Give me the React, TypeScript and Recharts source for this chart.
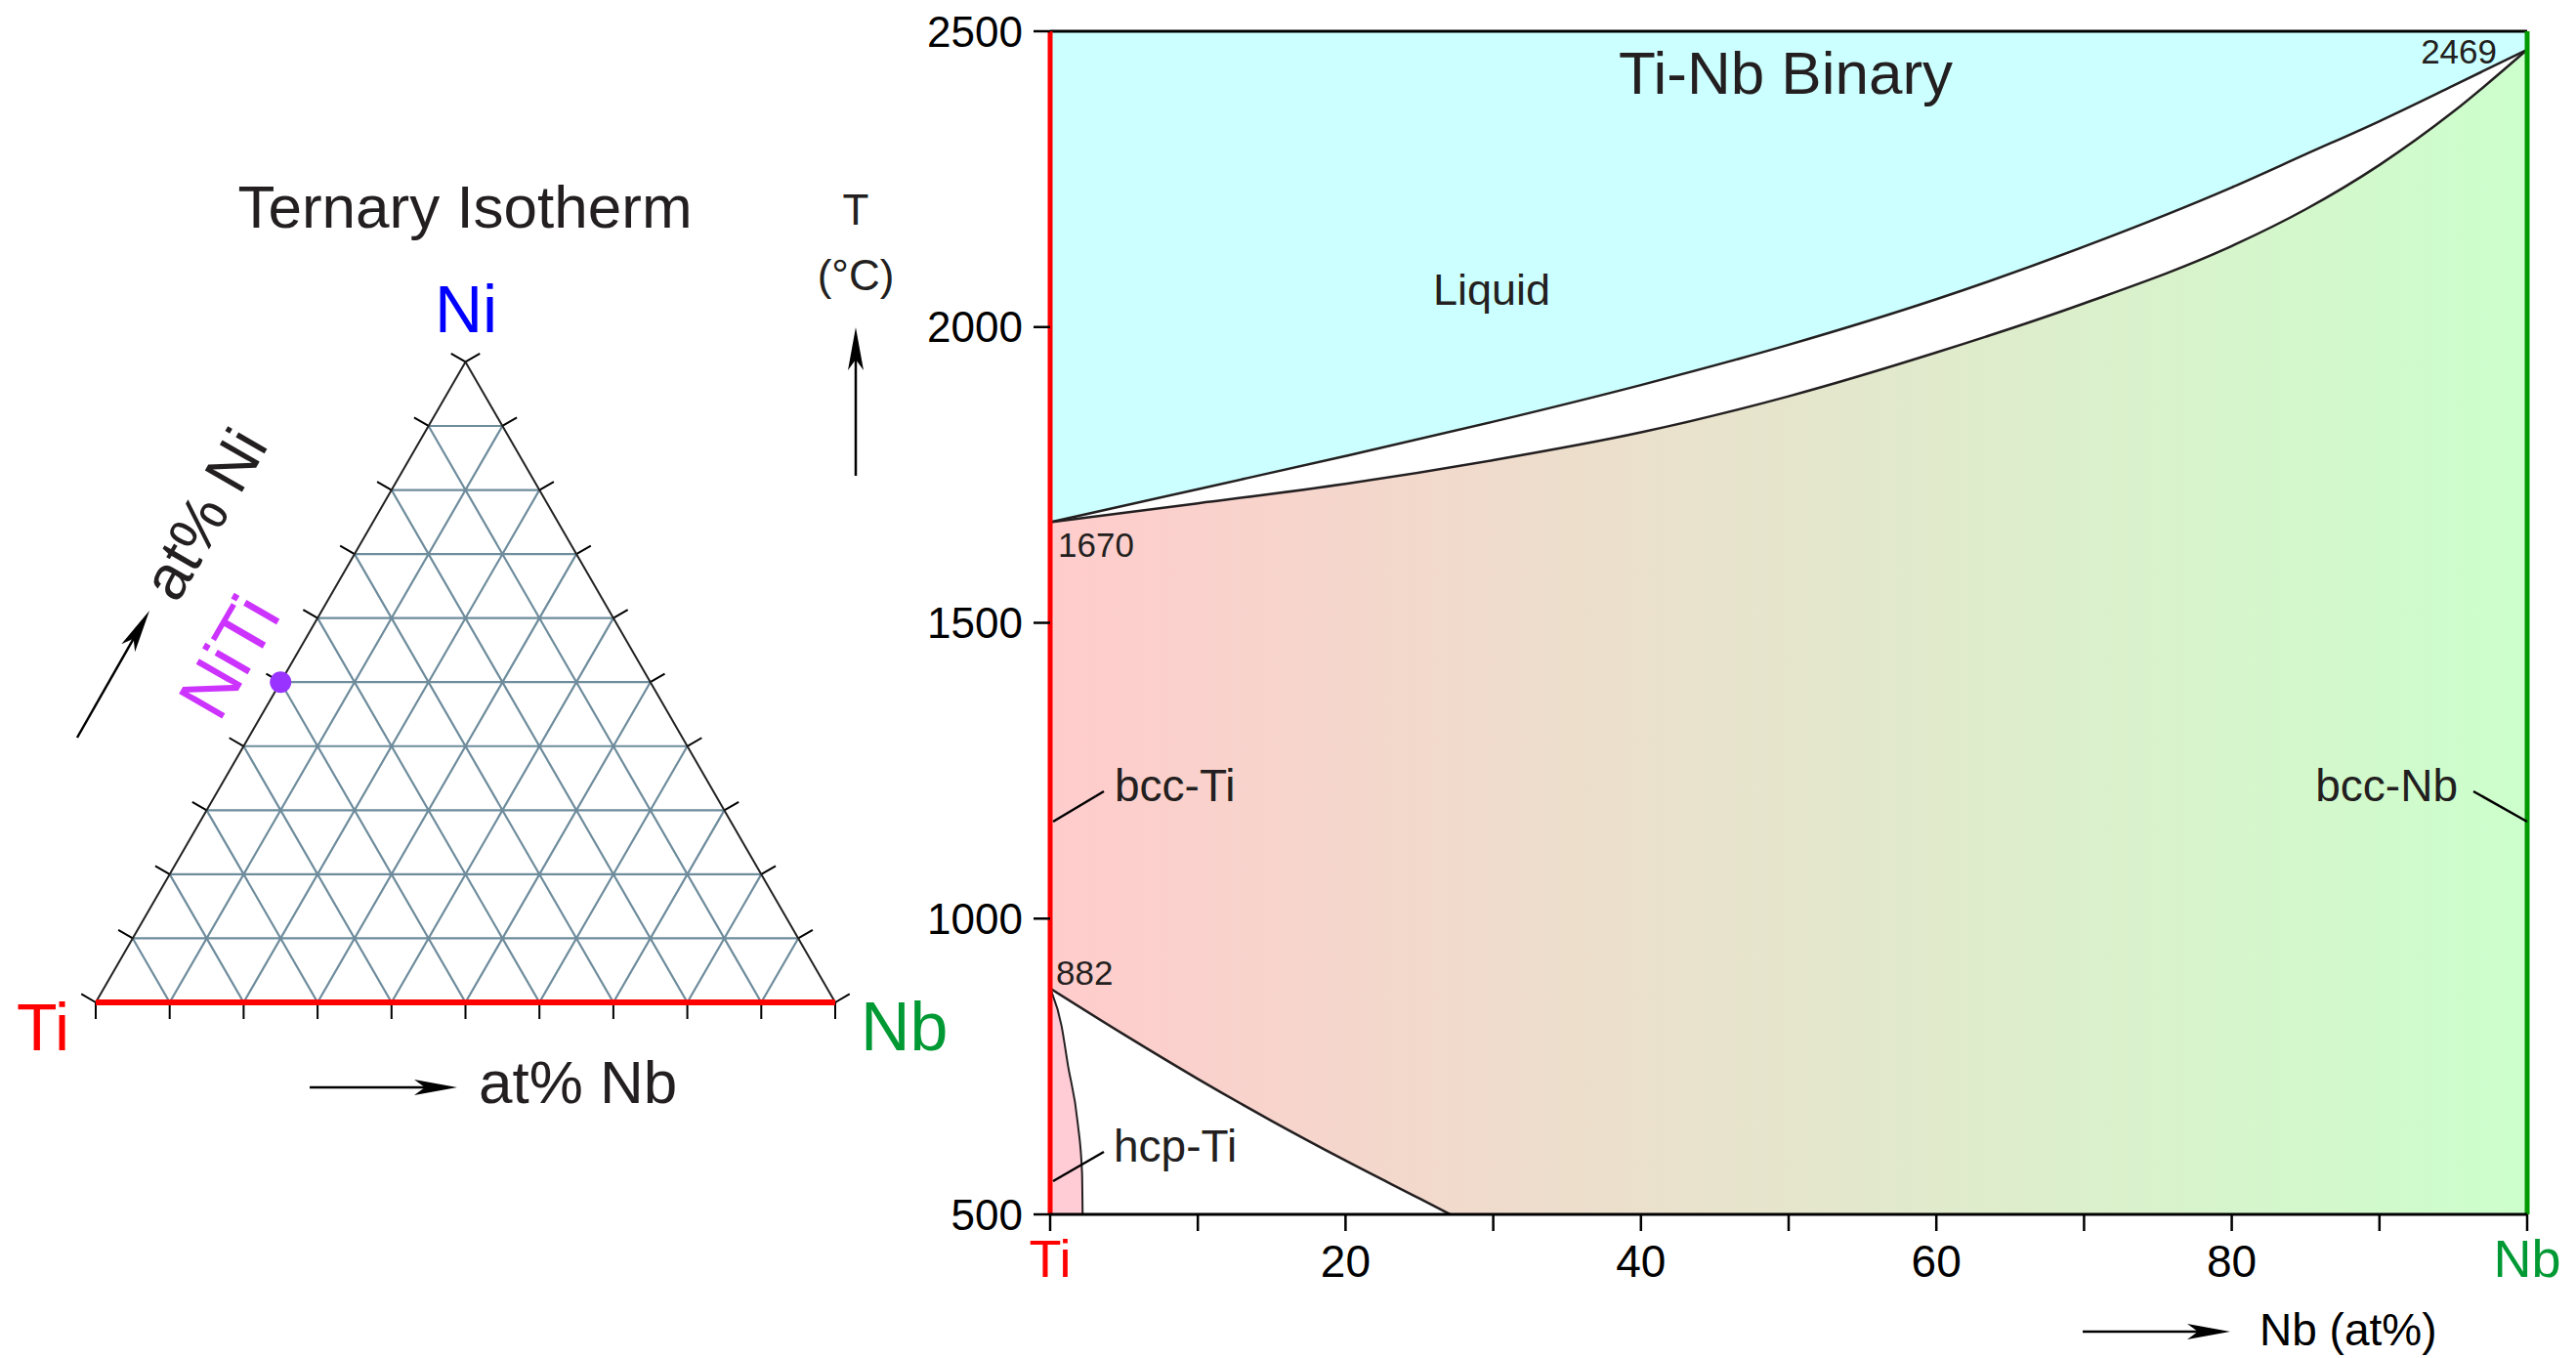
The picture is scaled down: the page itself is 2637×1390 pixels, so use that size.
import { ComposedChart, Line, Area, Scatter, XAxis, YAxis } from "recharts"

const FONT = '"Liberation Sans", Arial, Helvetica, sans-serif'
const INK = "#231f20"
const RED = "#ff0000"
const GREEN = "#009a00"
const GREEN_TXT = "#009933"
const BLUE = "#0000ff"
const GRID = "#6e8c9c"

// ---------- Ti-Nb binary ----------
const NB_PCT = [0, 10, 20, 30, 40, 50, 60, 70, 80, 85, 90, 95, 100]
const LIQUIDUS_T = [1670, 1726, 1782, 1840, 1902, 1970, 2047, 2136, 2236, 2292, 2348, 2408, 2469]
const SOLIDUS_T = [1670, 1702, 1735, 1775, 1822, 1883, 1957, 2040, 2137, 2199, 2274, 2364, 2469]

// bcc / (hcp+bcc) boundary
const TRANSUS_NB = [0, 5, 10, 15, 20, 25, 27.1]
const TRANSUS_T = [882, 804, 729, 658, 591, 527, 500]

// hcp / (hcp+bcc) boundary
const SOLVUS_NB = [0, 0.77, 1.2, 1.87, 2.16, 2.2]
const SOLVUS_T = [882, 819, 753, 654, 571, 500]

const T_MIN = 500
const T_MAX = 2500
const X_TICKS = [0, 10, 20, 30, 40, 50, 60, 70, 80, 90, 100]
const X_TICK_LABELS = ["Ti", "", "20", "", "40", "", "60", "", "80", "", "Nb"]
const Y_TICKS = [500, 1000, 1500, 2000, 2500]

const meltData = NB_PCT.map((x, i) => ({ x, liq: LIQUIDUS_T[i], sol: SOLIDUS_T[i] }))
const transusData = TRANSUS_NB.map((x, i) => ({ x, T: TRANSUS_T[i] }))
const solvusData = SOLVUS_NB.map((x, i) => ({ x, T: SOLVUS_T[i] }))
const bgData = [{ x: 0 }, { x: 100 }]
const tiEdge = [{ x: 0, T: T_MIN }, { x: 0, T: T_MAX }]
const nbEdge = [{ x: 100, T: T_MIN }, { x: 100, T: T_MAX }]
const topEdge = [{ x: 0, T: T_MAX }, { x: 100, T: T_MAX }]

// ---------- ternary (Ti - Nb - Ni) ----------
const GRID_STEPS = [10, 20, 30, 40, 50, 60, 70, 80, 90]
const EDGE_TICKS = [0, 10, 20, 30, 40, 50, 60, 70, 80, 90, 100]
const NITI = [{ nb: 0, ni: 50 }]
const TICK_LEN = 2.25

const H = Math.sqrt(3) / 2
const toXY = (nb: number, ni: number) => ({ x: nb + ni / 2, y: ni * H })

type P = { x: number; y: number | null }
function segments(pairs: [P, P][]) {
  const out: P[] = []
  pairs.forEach(([a, b]) => {
    out.push(a, b, { x: b.x, y: null })
  })
  return out
}

const gridData = segments(
  GRID_STEPS.flatMap((k) => [
    [toXY(0, k), toXY(100 - k, k)],
    [toXY(k, 0), toXY(k, 100 - k)],
    [toXY(100 - k, 0), toXY(0, 100 - k)],
  ] as [P, P][])
)

const tickData = segments(
  EDGE_TICKS.flatMap((k) => {
    const b = toXY(k, 0)
    const l = toXY(0, k)
    const r = toXY(100 - k, k)
    return [
      [b, { x: b.x, y: -TICK_LEN }],
      [l, { x: l.x - TICK_LEN * H, y: l.y + TICK_LEN / 2 }],
      [r, { x: r.x + TICK_LEN * H, y: r.y + TICK_LEN / 2 }],
    ] as [P, P][]
  })
)

const frameData = [toXY(0, 0), toXY(100, 0), toXY(0, 100), toXY(0, 0)]
const baseData = [toXY(0, 0), toXY(100, 0)]
const nitiData = NITI.map((p) => toXY(p.nb, p.ni))

const XTick = (props: any) => {
  const { x, y, payload } = props
  const i = X_TICKS.indexOf(payload.value)
  const label = X_TICK_LABELS[i]
  if (!label) return null
  const end = payload.value === 0 || payload.value === 100
  const fill = payload.value === 0 ? RED : payload.value === 100 ? GREEN_TXT : "#000"
  return (
    <text x={x} y={y + 47} textAnchor="middle" fill={fill} fontSize={end ? 54 : 46} fontFamily={FONT}>
      {label}
    </text>
  )
}

function Arrow({ x1, y1, x2, y2 }: { x1: number; y1: number; x2: number; y2: number }) {
  const len = Math.hypot(x2 - x1, y2 - y1)
  const ang = (Math.atan2(y2 - y1, x2 - x1) * 180) / Math.PI
  return (
    <g transform={`translate(${x2},${y2}) rotate(${ang})`}>
      <line x1={-len} y1={0} x2={-30} y2={0} stroke="#000" strokeWidth={2.5} />
      <path d="M0,0 L-44,-8 L-33,0 L-44,8 Z" fill="#000" />
    </g>
  )
}

function Ternary() {
  return (
    <div style={{ position: "absolute", left: 0, top: 0 }}>
      <ComposedChart width={950} height={1200} margin={{ top: 269, right: 19.3, bottom: 98.3, left: 22.3 }}>
        <XAxis type="number" dataKey="x" domain={[-10, 110]} hide />
        <YAxis type="number" dataKey="y" domain={[-10, 100]} hide />
        <Line data={gridData} dataKey="y" stroke={GRID} strokeWidth={2.2} dot={false} isAnimationActive={false} />
        <Line data={tickData} dataKey="y" stroke="#000" strokeWidth={2} dot={false} isAnimationActive={false} />
        <Line data={frameData} dataKey="y" stroke="#222" strokeWidth={2} dot={false} isAnimationActive={false} />
        <Line data={baseData} dataKey="y" stroke={RED} strokeWidth={6} dot={false} isAnimationActive={false} />
        <Scatter
          data={nitiData}
          dataKey="y"
          isAnimationActive={false}
          shape={(p: any) => <circle cx={p.cx} cy={p.cy} r={11} fill="#9933ff" />}
        />
      </ComposedChart>
    </div>
  )
}

function Binary() {
  return (
    <div style={{ position: "absolute", left: 900, top: 0 }}>
      <ComposedChart width={1737} height={1390} margin={{ top: 32, right: 50, bottom: 47, left: 55 }}>
        <defs>
          <linearGradient id="bccGrad" x1="0" y1="0" x2="1" y2="0">
            <stop offset="0%" stopColor="#ffcccc" />
            <stop offset="100%" stopColor="#ccffcc" />
          </linearGradient>
        </defs>
        <XAxis
          type="number"
          dataKey="x"
          domain={[0, 100]}
          ticks={X_TICKS}
          interval={0}
          height={100}
          tickSize={17}
          tickMargin={0}
          tick={<XTick />}
          axisLine={{ stroke: "#000", strokeWidth: 3 }}
          tickLine={{ stroke: "#000", strokeWidth: 2.5 }}
        />
        <YAxis
          type="number"
          domain={[T_MIN, T_MAX]}
          ticks={Y_TICKS}
          interval={0}
          width={120}
          tickSize={17}
          tickMargin={11}
          axisLine={false}
          tick={{ fontSize: 44, fill: "#000", fontFamily: FONT }}
          tickLine={{ stroke: "#000", strokeWidth: 2.5 }}
        />
        {/* bcc field: gradient Ti -> Nb */}
        <Area data={bgData} dataKey={() => [T_MIN, T_MAX]} type="linear" stroke="none" fill="url(#bccGrad)" fillOpacity={1} isAnimationActive={false} />
        {/* liquid */}
        <Area data={meltData} dataKey={(d: any) => [d.liq, T_MAX]} type="monotone" stroke="none" fill="#ccffff" fillOpacity={1} isAnimationActive={false} />
        {/* L + bcc */}
        <Area data={meltData} dataKey={(d: any) => [d.sol, d.liq]} type="monotone" stroke="none" fill="#ffffff" fillOpacity={1} isAnimationActive={false} />
        {/* hcp + bcc */}
        <Area data={transusData} dataKey={(d: any) => [T_MIN, d.T]} type="monotone" stroke="none" fill="#ffffff" fillOpacity={1} isAnimationActive={false} />
        {/* hcp-Ti */}
        <Area data={solvusData} dataKey={(d: any) => [T_MIN, d.T]} type="monotone" stroke="none" fill="#ffccd6" fillOpacity={1} isAnimationActive={false} />

        <Line data={meltData} dataKey="liq" type="monotone" stroke={INK} strokeWidth={2.5} dot={false} isAnimationActive={false} />
        <Line data={meltData} dataKey="sol" type="monotone" stroke={INK} strokeWidth={2.5} dot={false} isAnimationActive={false} />
        <Line data={transusData} dataKey="T" type="monotone" stroke={INK} strokeWidth={2.5} dot={false} isAnimationActive={false} />
        <Line data={solvusData} dataKey="T" type="monotone" stroke={INK} strokeWidth={2} dot={false} isAnimationActive={false} />

        <Line data={topEdge} dataKey="T" stroke="#000" strokeWidth={3} dot={false} isAnimationActive={false} />
        <Line data={tiEdge} dataKey="T" stroke={RED} strokeWidth={5} dot={false} isAnimationActive={false} />
        <Line data={nbEdge} dataKey="T" stroke={GREEN} strokeWidth={5} dot={false} isAnimationActive={false} />
      </ComposedChart>
    </div>
  )
}

function Annotations() {
  const t = { fontFamily: FONT, fill: INK }
  return (
    <svg width={2637} height={1390} style={{ position: "absolute", left: 0, top: 0, pointerEvents: "none" }}>
      {/* ternary */}
      <text x={476} y={233} textAnchor="middle" fontSize={62} {...t}>Ternary Isotherm</text>
      <text x={477} y={340} textAnchor="middle" fontSize={68} fontFamily={FONT} fill={BLUE}>Ni</text>
      <text x={17} y={1075} fontSize={68} fontFamily={FONT} fill={RED}>Ti</text>
      <text x={881} y={1075} fontSize={70} fontFamily={FONT} fill={GREEN_TXT}>Nb</text>
      <text x={490} y={1129} fontSize={62} {...t}>at% Nb</text>
      <Arrow x1={317} y1={1113} x2={468} y2={1113} />
      <text x={209} y={526} dy="0.35em" textAnchor="middle" fontSize={64} transform="rotate(-60 209 526)" {...t}>at% Ni</text>
      <Arrow x1={79} y1={755} x2={153} y2={625} />
      <text x={234} y={672} dy="0.35em" textAnchor="middle" fontSize={74} transform="rotate(-60 234 672)" fontFamily={FONT} fill="#cc33ff">NiTi</text>

      {/* temperature axis title */}
      <text x={876} y={230} textAnchor="middle" fontSize={44} {...t}>T</text>
      <text x={876} y={297} textAnchor="middle" fontSize={44} {...t}>(°C)</text>
      <Arrow x1={876} y1={487} x2={876} y2={335} />

      {/* binary */}
      <text x={1828} y={96} textAnchor="middle" fontSize={62} {...t}>Ti-Nb Binary</text>
      <text x={1467} y={312} fontSize={45} {...t}>Liquid</text>
      <text x={1083} y={570} fontSize={35} {...t}>1670</text>
      <text x={2556} y={65} textAnchor="end" fontSize={35} {...t}>2469</text>
      <text x={1081} y={1008} fontSize={35} {...t}>882</text>
      <text x={1141} y={820} fontSize={46} {...t}>bcc-Ti</text>
      <line x1={1078} y1={841} x2={1130} y2={810} stroke="#000" strokeWidth={2.5} />
      <text x={2516} y={820} textAnchor="end" fontSize={46} {...t}>bcc-Nb</text>
      <line x1={2532} y1={810} x2={2587} y2={841} stroke="#000" strokeWidth={2.5} />
      <text x={1140} y={1189} fontSize={46} {...t}>hcp-Ti</text>
      <line x1={1078} y1={1209} x2={1130} y2={1179} stroke="#000" strokeWidth={2.5} />
      <text x={2313} y={1377} fontSize={46} fontFamily={FONT} fill="#000">Nb (at%)</text>
      <Arrow x1={2132} y1={1363} x2={2283} y2={1363} />
    </svg>
  )
}

export default function App() {
  return (
    <div style={{ position: "absolute", left: 0, top: 0, width: 2637, height: 1390, background: "#fff", fontFamily: FONT }}>
      <Ternary />
      <Binary />
      <Annotations />
    </div>
  )
}
